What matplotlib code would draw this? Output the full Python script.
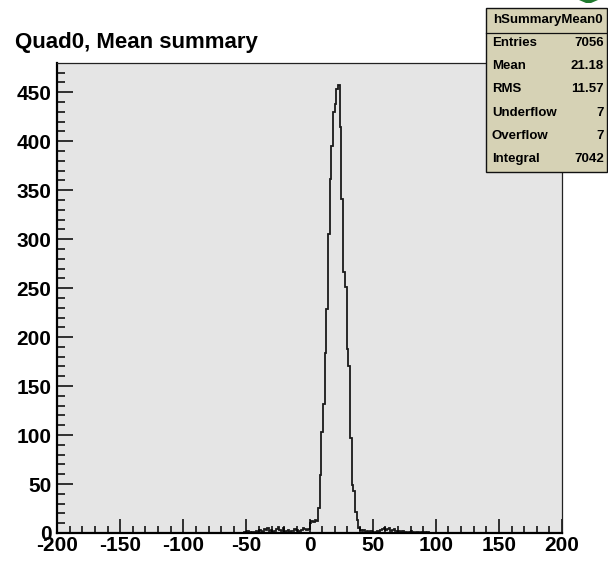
import numpy as np
import matplotlib
matplotlib.use("Agg")
import matplotlib.pyplot as plt
from matplotlib.patches import Rectangle, Polygon
from matplotlib.ticker import MultipleLocator

# histogram binning (300 bins over -200..200)
n_bins = 300
x_lo, x_hi = -200, 200

# bin contents, each list starts at the given x value
left_tail_start = -52
left_tail = [1, 0, 2, 1, 0, 1, 1, 2, 1, 3, 2, 1, 4, 3, 5, 2, 3, 1, 2, 4,
             6, 3, 2, 5, 1, 2, 3, 1, 2, 2, 4, 3, 1, 2, 3, 5, 4, 3, 4]
core_start = 0
core = [10, 12, 11, 13, 12, 26, 59, 103, 132, 184, 229, 305, 361, 395, 430,
        438, 453, 457, 415, 341, 266, 251, 188, 171, 97, 49, 43, 21, 13, 5]
right_tail_start = 40
right_tail = [3, 2, 3, 1, 2, 1, 2, 1, 0, 1, 2, 1, 3, 4, 5, 3, 4, 5, 2, 3,
              4, 2, 1, 2, 1, 2, 1, 1, 0, 1, 2, 1, 0, 1, 1, 0, 1, 0, 1, 0, 1]

title = "Quad0, Mean summary"
stats_name = "hSummaryMean0"
stats_labels = ["Entries", "Mean", "RMS", "Underflow", "Overflow", "Integral"]
stats_values = ["7056", "21.18", "11.57", "7", "7", "7042"]

edges = np.linspace(x_lo, x_hi, n_bins + 1)
counts = np.zeros(n_bins)
for start, vals in [(left_tail_start, left_tail), (core_start, core),
                    (right_tail_start, right_tail)]:
    i0 = int(np.argmin(np.abs(edges - start)))
    counts[i0:i0 + len(vals)] = vals

W, H = 608, 561
plt.rcParams['font.family'] = ['Liberation Sans', 'DejaVu Sans']
plt.rcParams['font.weight'] = 'bold'
plt.rcParams['axes.unicode_minus'] = False

fig = plt.figure(figsize=(W / 100, H / 100), dpi=100)

def fx(px):
    return px / W

def fy(py):
    return 1 - py / H

ax = fig.add_axes([fx(57), fy(533), fx(562) - fx(57), fy(63) - fy(533)])
ax.set_facecolor('#e5e5e5')
ax.stairs(counts, edges, color='#1a1a1a', lw=1.3)

ax.set_xlim(x_lo, x_hi)
ax.set_ylim(0, counts.max() * 1.05)

ax.xaxis.set_major_locator(MultipleLocator(50))
ax.xaxis.set_minor_locator(MultipleLocator(10))
ax.yaxis.set_major_locator(MultipleLocator(50))
ax.yaxis.set_minor_locator(MultipleLocator(10))
ax.tick_params(axis='x', which='major', direction='in', length=10, width=1.1,
               labelsize=15, pad=2)
ax.tick_params(axis='x', which='minor', direction='in', length=5, width=1.1)
ax.tick_params(axis='y', which='major', direction='in', length=11.5, width=1.1,
               labelsize=15, pad=4)
ax.tick_params(axis='y', which='minor', direction='in', length=5.8, width=1.1)

for s in ['left', 'bottom']:
    ax.spines[s].set_linewidth(1.6)
    ax.spines[s].set_color('black')
for s in ['top', 'right']:
    ax.spines[s].set_linewidth(0.9)
    ax.spines[s].set_color('#222222')

fig.text(fx(15), fy(48), title, fontsize=16, fontweight='bold',
         ha='left', va='baseline')

# stats box
box = Rectangle((fx(486), fy(172)), fx(607) - fx(486), fy(8) - fy(172),
                transform=fig.transFigure, facecolor='#d6d2b5',
                edgecolor='#111111', lw=1.0, zorder=5)
fig.add_artist(box)
fig.add_artist(plt.Line2D([fx(486), fx(607)], [fy(33), fy(33)],
                          transform=fig.transFigure, color='#111111',
                          lw=0.9, zorder=6))
fig.text(fx(548), fy(20), stats_name, fontsize=9.5, fontweight='bold',
         ha='center', va='center', zorder=7)
for k, (lab, val) in enumerate(zip(stats_labels, stats_values)):
    y = fy(43 + k * 23.2)
    fig.text(fx(492), y, lab, fontsize=9.5, fontweight='bold',
             ha='left', va='center', zorder=7)
    fig.text(fx(604), y, val, fontsize=9.5, fontweight='bold',
             ha='right', va='center', zorder=7)

# small green logo piece at the top right corner
logo = Polygon([(fx(579), fy(0)), (fx(598), fy(0)), (fx(591), fy(3)),
                (fx(586), fy(3))], closed=True, transform=fig.transFigure,
               facecolor='#1f7a2e', edgecolor='none', zorder=4)
fig.add_artist(logo)

fig.savefig("out.png", dpi=100)
